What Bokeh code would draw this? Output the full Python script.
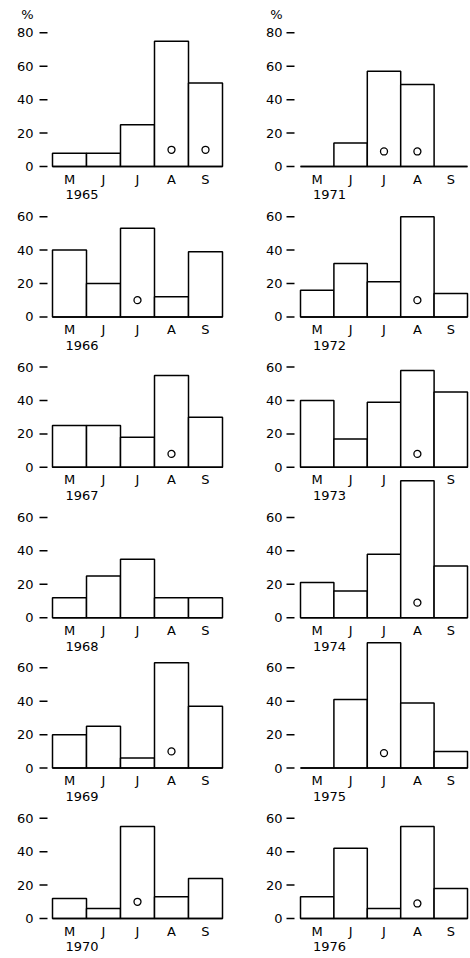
from bokeh.plotting import figure
from bokeh.layouts import row
from bokeh.models import FixedTicker, ColumnDataSource
from bokeh.core.properties import value
from bokeh.embed import file_html
from bokeh.resources import INLINE

# ---------------- data (percent per month) ----------------
months = ["M", "J", "J", "A", "S"]

years_left = [1965, 1966, 1967, 1968, 1969, 1970]
years_right = [1971, 1972, 1973, 1974, 1975, 1976]

pct_1965 = [8, 8, 25, 75, 50]
pct_1966 = [40, 20, 53, 12, 39]
pct_1967 = [25, 25, 18, 55, 30]
pct_1968 = [12, 25, 35, 12, 12]
pct_1969 = [20, 25, 6, 63, 37]
pct_1970 = [12, 6, 55, 13, 24]
pct_1971 = [0, 14, 57, 49, 0]
pct_1972 = [16, 32, 21, 60, 14]
pct_1973 = [40, 17, 39, 58, 45]
pct_1974 = [21, 16, 38, 82, 31]
pct_1975 = [0, 41, 75, 39, 10]
pct_1976 = [13, 42, 6, 55, 18]

# months (index into `months`) that carry an open circle, and its level
circ_1965 = [3, 4]
circ_1966 = [2]
circ_1967 = [3]
circ_1968 = []
circ_1969 = [3]
circ_1970 = [2]
circ_1971 = [2, 3]
circ_1972 = [3]
circ_1973 = [3]
circ_1974 = [3]
circ_1975 = [2]
circ_1976 = [3]
circ_level = {1965: 10, 1966: 10, 1967: 8, 1968: 10, 1969: 10, 1970: 10,
              1971: 9, 1972: 10, 1973: 8, 1974: 9, 1975: 9, 1976: 9}

axis_ticks_small = [0, 20, 40, 60]
axis_ticks_large = [0, 20, 40, 60, 80]
large_axis_years = [1965, 1971]   # these panels also carry the "%" unit

# month labels hidden in the original (covered by the tall 1974 bar)
hidden_month_labels = {1973: [3]}

pct = {1965: pct_1965, 1966: pct_1966, 1967: pct_1967, 1968: pct_1968,
       1969: pct_1969, 1970: pct_1970, 1971: pct_1971, 1972: pct_1972,
       1973: pct_1973, 1974: pct_1974, 1975: pct_1975, 1976: pct_1976}
circ = {1965: circ_1965, 1966: circ_1966, 1967: circ_1967, 1968: circ_1968,
        1969: circ_1969, 1970: circ_1970, 1971: circ_1971, 1972: circ_1972,
        1973: circ_1973, 1974: circ_1974, 1975: circ_1975, 1976: circ_1976}

# ---------------- layout constants (pixels) ----------------
ROW = 90.0            # data units between panel baselines
PX = 150.4 / ROW      # pixels per data unit
H = 958
TOP_BASE_PX = 166     # pixels from figure top to first baseline
FONT = "DejaVu Sans"


def column_figure(years, fig_x0, fig_w, frame_left, bar_start, bar_w, dash_px):
    n = len(years)
    left_border = frame_left - fig_x0
    frame_w = fig_w - left_border
    x_start = -0.5 - (bar_start - frame_left) / bar_w
    x_end = x_start + frame_w / bar_w
    dash_x0 = -0.5 - (bar_start - dash_px[0]) / bar_w
    dash_x1 = -0.5 - (bar_start - dash_px[1]) / bar_w

    y_end = (n - 1) * ROW + TOP_BASE_PX / PX
    y_start = y_end - H / PX
    p = figure(width=fig_w, height=H,
               x_range=(x_start, x_end), y_range=(y_start, y_end),
               output_backend="svg", toolbar_location=None,
               x_axis_location=None,
               min_border_left=left_border, min_border_right=0,
               min_border_top=0, min_border_bottom=0)
    p.grid.visible = False
    p.outline_line_color = None
    p.background_fill_color = "white"
    p.border_fill_color = "white"

    ticks = []
    overrides = {}
    dashes = dict(x0=[], x1=[], y=[])
    bar_data = dict(x=[], bottom=[], top=[])
    base = dict(x0=[], y0=[], x1=[], y1=[])
    circ_data = dict(x=[], y=[])

    for k, yr in enumerate(years):
        off = (n - 1 - k) * ROW
        tks = axis_ticks_large if yr in large_axis_years else axis_ticks_small
        for t in tks:
            ticks.append(off + t)
            overrides[off + t] = str(t)
            dashes["x0"].append(dash_x0)
            dashes["x1"].append(dash_x1)
            dashes["y"].append(off + t)
        if yr in large_axis_years:
            ticks.append(off + 91)
            overrides[off + 91] = "%"
        vals = pct[yr]
        for i, v in enumerate(vals):
            bar_data["x"].append(i)
            bar_data["bottom"].append(off)
            bar_data["top"].append(off + v)
        base["x0"].append(-0.5)
        base["x1"].append(len(vals) - 0.5)
        base["y0"].append(off)
        base["y1"].append(off)
        for i in circ[yr]:
            circ_data["x"].append(i)
            circ_data["y"].append(off + circ_level[yr])

        hid = hidden_month_labels.get(yr, [])
        mx = [i for i in range(len(months)) if i not in hid]
        p.text(x=mx, y=[off - 7.5] * len(mx), text=[months[i] for i in mx],
               text_align="center", text_baseline="middle",
               text_font=value(FONT), text_font_size="13px", text_color="black")
        p.text(x=[0.37], y=[off - 17.0], text=[str(yr)],
               text_align="center", text_baseline="middle",
               text_font=value(FONT), text_font_size="13px", text_color="black")

    # tick dashes of the y axis
    p.segment(x0="x0", y0="y", x1="x1", y1="y", source=ColumnDataSource(dashes),
              line_color="black", line_width=1.5)
    p.vbar(x="x", width=1.0, bottom="bottom", top="top",
           source=ColumnDataSource(bar_data),
           fill_color="white", line_color="black", line_width=1.5)
    p.segment(x0="x0", y0="y0", x1="x1", y1="y1", source=ColumnDataSource(base),
              line_color="black", line_width=1.5)
    p.scatter(x="x", y="y", source=ColumnDataSource(circ_data), marker="circle",
              size=7, fill_color="white", line_color="black", line_width=1.3)

    ax = p.yaxis[0]
    ax.ticker = FixedTicker(ticks=ticks, minor_ticks=[])
    ax.major_label_overrides = overrides
    ax.axis_line_color = None
    ax.major_tick_out = 0
    ax.major_tick_in = 0
    ax.major_tick_line_color = None
    ax.minor_tick_line_color = None
    ax.major_label_standoff = 3
    ax.major_label_text_font = FONT
    ax.major_label_text_font_size = "13px"
    ax.major_label_text_color = "black"
    return p


left = column_figure(years_left, 0, 228, 36, 52, 34.0, (39, 47))
right = column_figure(years_right, 228, 242, 285, 300, 33.4, (286, 294))

layout = row(left, right, spacing=0)
open("out.html", "w").write(file_html(layout, INLINE))
